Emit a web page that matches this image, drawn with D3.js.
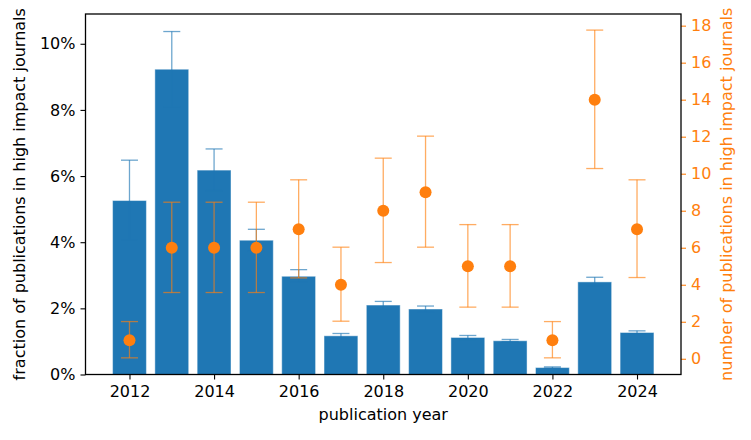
<!DOCTYPE html>
<html>
<head>
<meta charset="utf-8">
<script src="https://cdn.jsdelivr.net/npm/d3@7"></script>
<style>
  body { margin: 0; background: #fff; }
  text { font-family: "DejaVu Sans", sans-serif; }
</style>
</head>
<body>
<div id="chart"></div>
<script>
// publication years
const years = [2012, 2013, 2014, 2015, 2016, 2017, 2018, 2019, 2020, 2021, 2022, 2023, 2024];
// fraction in high impact journals (%), with error bar limits
const fraction = [5.26, 9.23, 6.18, 4.06, 2.97, 1.17, 2.10, 1.98, 1.12, 1.02, 0.21, 2.80, 1.27];
const fracLow  = [4.07, 8.09, 5.56, 3.74, 2.79, 1.10, 1.98, 1.88, 1.06, 0.99, 0.19, 2.68, 1.22];
const fracHigh = [6.48, 10.37, 6.82, 4.39, 3.17, 1.24, 2.21, 2.07, 1.18, 1.06, 0.23, 2.94, 1.32];
// number of publications in high impact journals, with error bar limits
const counts    = [1, 6, 6, 6, 7, 4, 8, 9, 5, 5, 1, 14, 7];
const countLow  = [0.05, 3.58, 3.58, 3.58, 4.37, 2.03, 5.2, 6.03, 2.79, 2.79, 0.05, 10.28, 4.39];
const countHigh = [2.01, 8.46, 8.46, 8.46, 9.67, 6.03, 10.84, 12.03, 7.25, 7.25, 2.01, 17.76, 9.67];

const xTicks = [2012, 2014, 2016, 2018, 2020, 2022, 2024];
const leftTicks = [0, 2, 4, 6, 8, 10];
const rightTicks = [0, 2, 4, 6, 8, 10, 12, 14, 16, 18];

const blue = "#1f77b4", orange = "#ff7f0e";
const W = 751, H = 440;
const margin = { top: 14, right: 70, bottom: 65.5, left: 85.5 };
const width = W - margin.left - margin.right;
const height = H - margin.top - margin.bottom;

const svg = d3.select("#chart").append("svg")
  .attr("width", W).attr("height", H);
const g = svg.append("g")
  .attr("transform", `translate(${margin.left},${margin.top})`);

const x = d3.scaleLinear().domain([2010.96, 2025.04]).range([0, width]);
const y = d3.scaleLinear().domain([0, 10.9]).range([height, 0]);
const y2 = d3.scaleLinear().domain([-0.85, 18.63]).range([height, 0]);
const barW = x(2012.8) - x(2012);
const capW = 17;

// bars
g.selectAll(".bar").data(years).enter().append("rect")
  .attr("class", "bar")
  .attr("x", d => x(d) - barW / 2)
  .attr("width", barW)
  .attr("y", (d, i) => y(fraction[i]))
  .attr("height", (d, i) => y(0) - y(fraction[i]))
  .attr("fill", blue)
  .attr("stroke", "rgba(255,255,255,0.45)")
  .attr("stroke-width", 1);

// error bars helper
function errorBars(sel, lo, hi, scale, color) {
  const eb = sel.selectAll(null).data(years).enter().append("g")
    .attr("stroke", color).attr("stroke-width", 1.3).attr("stroke-opacity", 0.65);
  eb.append("line")
    .attr("x1", d => x(d)).attr("x2", d => x(d))
    .attr("y1", (d, i) => scale(lo[i])).attr("y2", (d, i) => scale(hi[i]));
  eb.append("line")
    .attr("x1", d => x(d) - capW / 2).attr("x2", d => x(d) + capW / 2)
    .attr("y1", (d, i) => scale(lo[i])).attr("y2", (d, i) => scale(lo[i]));
  eb.append("line")
    .attr("x1", d => x(d) - capW / 2).attr("x2", d => x(d) + capW / 2)
    .attr("y1", (d, i) => scale(hi[i])).attr("y2", (d, i) => scale(hi[i]));
}

errorBars(g, fracLow, fracHigh, y, blue);
errorBars(g, countLow, countHigh, y2, orange);

g.selectAll(".dot").data(years).enter().append("circle")
  .attr("class", "dot")
  .attr("cx", d => x(d))
  .attr("cy", (d, i) => y2(counts[i]))
  .attr("r", 6)
  .attr("fill", orange);

// axes
const fs = "16px";
const xAxis = g.append("g").attr("transform", `translate(0,${height})`)
  .call(d3.axisBottom(x).tickValues(xTicks).tickFormat(d3.format("d")).tickSize(5).tickPadding(6));
const yAxis = g.append("g")
  .call(d3.axisLeft(y).tickValues(leftTicks).tickFormat(d => d + "%").tickSize(5).tickPadding(5));
const y2Axis = g.append("g").attr("transform", `translate(${width},0)`)
  .call(d3.axisRight(y2).tickValues(rightTicks).tickSize(5).tickPadding(5));

[xAxis, yAxis, y2Axis].forEach(a => {
  a.select(".domain").remove();
  a.selectAll("text").style("font-size", fs).attr("font-family", "DejaVu Sans");
  a.selectAll("line").attr("stroke-width", 1.1);
});
xAxis.selectAll("text").attr("fill", "#000");
yAxis.selectAll("text").attr("fill", "#000");
y2Axis.selectAll("text").attr("fill", orange);
y2Axis.selectAll("line").attr("stroke", orange);

// frame
g.append("rect").attr("width", width).attr("height", height)
  .attr("fill", "none").attr("stroke", "#000").attr("stroke-width", 1.3);

// labels
g.append("text")
  .attr("x", width / 2).attr("y", height + 45)
  .attr("text-anchor", "middle").style("font-size", fs)
  .text("publication year");

g.append("text")
  .attr("transform", `translate(${-60.5},${height / 2}) rotate(-90)`)
  .attr("text-anchor", "middle").style("font-size", fs)
  .text("fraction of publications in high impact journals");

g.append("text")
  .attr("transform", `translate(${width + 51},${height / 2}) rotate(-90)`)
  .attr("text-anchor", "middle").style("font-size", fs)
  .attr("fill", orange)
  .text("number of publications in high impact journals");
</script>
</body>
</html>
